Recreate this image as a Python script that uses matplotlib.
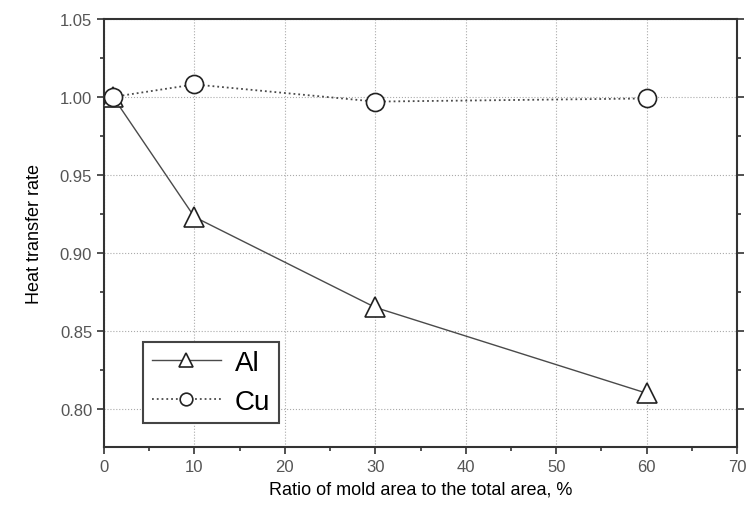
import matplotlib.pyplot as plt
from matplotlib.ticker import MultipleLocator

plt.rcParams['font.family'] = ['Liberation Sans', 'DejaVu Sans']

ratio = [1, 10, 30, 60]
al_rate = [1.000, 0.923, 0.865, 0.810]
cu_rate = [1.000, 1.008, 0.997, 0.999]

fig = plt.figure(figsize=(7.5, 5.06), dpi=100)
ax = fig.add_axes([0.1387, 0.1146, 0.844, 0.846])

line_col = '#4a4a4a'
ax.plot(ratio, al_rate, '-', color=line_col, lw=1.0, marker='^', ms=14,
        mfc='white', mec='#222222', mew=1.2, label='Al', zorder=3)
ax.plot(ratio, cu_rate, ':', color=line_col, lw=1.3, marker='o', ms=13,
        mfc='white', mec='#222222', mew=1.2, label='Cu', zorder=3)

ax.set_xlim(0, 70)
ax.set_ylim(0.7755, 1.05)
ax.xaxis.set_major_locator(MultipleLocator(10))
ax.xaxis.set_minor_locator(MultipleLocator(5))
ax.yaxis.set_major_locator(MultipleLocator(0.05))
ax.yaxis.set_minor_locator(MultipleLocator(0.025))
ax.yaxis.set_major_formatter(plt.FormatStrFormatter('%.2f'))

ax.grid(True, which='major', linestyle=':', color='#aaaaaa', lw=0.8)
ax.tick_params(which='both', direction='out', colors='#333333',
               labelcolor='#555555', labelsize=12, width=1.2, right=True)
ax.tick_params(which='major', length=5)
ax.tick_params(which='minor', length=3)
for sp in ax.spines.values():
    sp.set_linewidth(1.5)
    sp.set_color('#333333')

ax.set_xlabel('Ratio of mold area to the total area, %', fontsize=13, labelpad=5)
ax.set_ylabel('Heat transfer rate', fontsize=13, labelpad=12)

leg = ax.legend(loc='lower left', bbox_to_anchor=(0.062, 0.056), fontsize=20,
                numpoints=1, handlelength=2.5, markerscale=0.7,
                fancybox=False, framealpha=1, edgecolor='#444444',
                borderpad=0.3, labelspacing=0.45, handletextpad=0.5,
                borderaxespad=0)
leg.get_frame().set_linewidth(1.5)

fig.savefig('out.png', dpi=100)
